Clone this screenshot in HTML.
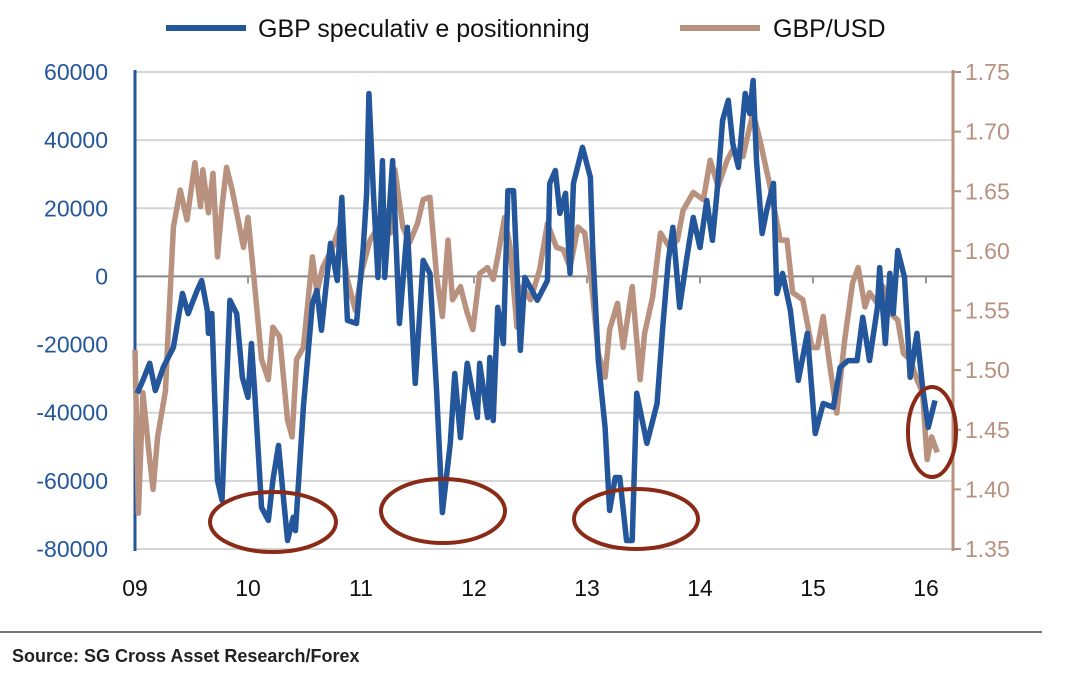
<!DOCTYPE html>
<html><head><meta charset="utf-8"><style>
body{margin:0;background:#fff;}
svg{display:block;font-family:"Liberation Sans",sans-serif;}
</style></head><body>
<svg id="chart" width="1079" height="681"></svg>
<script>
const blueT=[2009.02,2009.07,2009.13,2009.18,2009.25,2009.34,2009.42,2009.47,2009.55,2009.59,2009.64,2009.65,2009.68,2009.73,2009.77,2009.84,2009.90,2009.95,2010.00,2010.03,2010.06,2010.12,2010.18,2010.22,2010.27,2010.31,2010.35,2010.40,2010.42,2010.49,2010.57,2010.61,2010.65,2010.73,2010.79,2010.83,2010.88,2010.96,2011.02,2011.05,2011.07,2011.11,2011.15,2011.19,2011.21,2011.28,2011.34,2011.41,2011.48,2011.55,2011.61,2011.67,2011.72,2011.79,2011.83,2011.88,2011.94,2012.03,2012.05,2012.12,2012.14,2012.17,2012.21,2012.26,2012.30,2012.35,2012.41,2012.45,2012.56,2012.65,2012.67,2012.72,2012.76,2012.81,2012.85,2012.88,2012.96,2013.03,2013.05,2013.10,2013.16,2013.20,2013.25,2013.29,2013.35,2013.40,2013.44,2013.53,2013.62,2013.67,2013.72,2013.76,2013.82,2013.88,2013.94,2014.00,2014.06,2014.11,2014.15,2014.20,2014.25,2014.29,2014.34,2014.40,2014.44,2014.47,2014.50,2014.55,2014.59,2014.65,2014.68,2014.73,2014.80,2014.87,2014.95,2015.02,2015.09,2015.18,2015.24,2015.31,2015.39,2015.44,2015.50,2015.57,2015.59,2015.64,2015.68,2015.71,2015.75,2015.81,2015.86,2015.92,2015.97,2016.02,2016.08];
const blueV=[-34.3,-30.5,-25.5,-33.5,-26.7,-20.8,-5.0,-10.9,-4.1,-1.2,-10.0,-16.7,-10.9,-59.9,-65.7,-7.0,-10.9,-29.6,-35.5,-19.7,-34.3,-67.8,-71.6,-59.9,-49.6,-63.7,-77.5,-70.7,-74.6,-38.4,-7.9,-4.1,-15.8,9.7,-1.2,23.2,-12.9,-13.8,8.5,24.4,53.7,24.4,-0.3,34.0,-0.3,34.0,-13.8,14.4,-31.4,4.7,0.9,-34.3,-69.3,-49.0,-28.5,-47.3,-25.5,-41.4,-25.5,-41.4,-23.8,-42.3,-9.1,-19.7,25.2,25.2,-21.7,-0.3,-7.0,-1.2,27.3,31.1,18.5,24.4,0.9,27.3,37.9,29.1,8.5,-24.7,-44.3,-68.7,-59.0,-59.0,-77.5,-77.5,-34.3,-49.0,-37.3,-15.0,4.7,14.4,-9.1,4.7,17.3,8.5,22.3,10.6,24.4,45.8,51.7,39.0,32.0,53.7,47.8,57.5,34.0,12.6,19.4,27.3,-5.0,0.9,-10.0,-30.5,-16.7,-46.1,-37.3,-38.4,-26.7,-24.7,-24.7,-12.0,-24.7,-9.1,2.6,-19.7,0.9,-10.9,7.6,-0.3,-29.6,-16.7,-32.6,-44.3,-36.4];
const fxT=[2009.00,2009.03,2009.07,2009.13,2009.16,2009.20,2009.27,2009.29,2009.34,2009.40,2009.46,2009.53,2009.58,2009.60,2009.65,2009.69,2009.73,2009.77,2009.81,2009.86,2009.90,2009.96,2010.00,2010.06,2010.12,2010.18,2010.22,2010.28,2010.35,2010.39,2010.43,2010.49,2010.57,2010.61,2010.66,2010.75,2010.81,2010.88,2010.95,2011.01,2011.08,2011.15,2011.21,2011.26,2011.30,2011.37,2011.43,2011.50,2011.55,2011.61,2011.67,2011.72,2011.77,2011.81,2011.88,2011.94,2011.99,2012.05,2012.12,2012.17,2012.21,2012.27,2012.32,2012.38,2012.43,2012.50,2012.58,2012.65,2012.73,2012.79,2012.85,2012.92,2012.98,2013.04,2013.10,2013.16,2013.20,2013.27,2013.32,2013.40,2013.47,2013.51,2013.58,2013.65,2013.73,2013.80,2013.85,2013.94,2014.03,2014.09,2014.16,2014.24,2014.29,2014.38,2014.42,2014.47,2014.53,2014.62,2014.71,2014.77,2014.82,2014.91,2014.99,2015.04,2015.09,2015.15,2015.21,2015.28,2015.35,2015.40,2015.46,2015.50,2015.57,2015.62,2015.68,2015.75,2015.80,2015.86,2015.92,2015.97,2016.01,2016.05,2016.10];
const fxV=[1.517,1.380,1.481,1.425,1.400,1.444,1.483,1.525,1.620,1.651,1.626,1.674,1.637,1.668,1.632,1.665,1.595,1.637,1.670,1.651,1.632,1.603,1.628,1.570,1.509,1.492,1.536,1.528,1.458,1.444,1.509,1.519,1.595,1.565,1.586,1.603,1.620,1.576,1.550,1.584,1.609,1.620,1.634,1.615,1.668,1.620,1.607,1.623,1.643,1.645,1.578,1.545,1.609,1.559,1.570,1.548,1.534,1.581,1.586,1.576,1.595,1.628,1.603,1.536,1.570,1.559,1.584,1.623,1.603,1.601,1.586,1.620,1.615,1.573,1.514,1.494,1.534,1.556,1.519,1.570,1.492,1.531,1.561,1.615,1.603,1.609,1.634,1.649,1.643,1.676,1.654,1.676,1.685,1.679,1.696,1.716,1.693,1.654,1.609,1.609,1.565,1.559,1.519,1.519,1.545,1.503,1.464,1.525,1.573,1.586,1.553,1.565,1.556,1.570,1.548,1.542,1.514,1.509,1.492,1.481,1.425,1.444,1.431];
const leftTicks=[60000,40000,20000,0,-20000,-40000,-60000,-80000];
const rightTicks=[1.75,1.70,1.65,1.60,1.55,1.50,1.45,1.40,1.35];
const yearLabels=["09","10","11","12","13","14","15","16"];

const NS="http://www.w3.org/2000/svg";
const svg=document.getElementById('chart');
const X0=135,X1=953,Y0=72,Y1=549;
const xs=t=>X0+(t-2009)*113;
const yl=v=>Y0+(60000-v)/140000*(Y1-Y0);
const yr=v=>Y0+(1.75-v)/0.4*(Y1-Y0);
function mk(tag,attrs,txt){const e=document.createElementNS(NS,tag);for(const k in attrs)e.setAttribute(k,attrs[k]);if(txt!=null)e.textContent=txt;svg.appendChild(e);return e;}
const BLUE="#24569b",BROWN="#b8917f";

leftTicks.forEach(v=>{
  const g=mk('line',{x1:X0,x2:X1,y1:yl(v),y2:yl(v),stroke:v===0?'#888':'#d4d4d4','stroke-width':2});
  
  
  const t=mk('text',{x:108,y:yl(v)+8,'text-anchor':'end','font-size':23,fill:BLUE},String(v));
  
  
});
rightTicks.forEach(v=>{
  const tk=mk('line',{x1:X1,x2:X1+8,y1:yr(v),y2:yr(v),stroke:BROWN,'stroke-width':2});
  
  
  const t=mk('text',{x:965,y:yr(v)+8,'font-size':23,fill:BROWN},v.toFixed(2));
  
  
});
yearLabels.forEach((l,i)=>{
  const tk=mk('line',{x1:xs(2009+i),x2:xs(2009+i),y1:yl(0),y2:yl(0)+7,stroke:'#999','stroke-width':2});
  
  
  const t=mk('text',{x:xs(2009+i),y:596,'text-anchor':'middle','font-size':23,fill:'#111'},l);
  
  
});
const la=mk('line',{x1:X0,x2:X0,y1:Y0-2,y2:Y1+2,stroke:BLUE,'stroke-width':3});


const ra=mk('line',{x1:X1,x2:X1,y1:Y0-2,y2:Y1+2,stroke:BROWN,'stroke-width':3});



const pf=mk('polyline',{points:fxT.map((t,i)=>xs(t)+','+yr(fxV[i])).join(' '),fill:'none',stroke:BROWN,'stroke-width':5.5,'stroke-linejoin':'round'});


const pb=mk('polyline',{points:blueT.map((t,i)=>xs(t)+','+yl(blueV[i]*1000)).join(' '),fill:'none',stroke:BLUE,'stroke-width':5.5,'stroke-linejoin':'round'});



[[273,522,63,30],[443,511,62,32],[636,519,62,30],[932,432,24,45]].forEach(e=>{
  const el=mk('ellipse',{cx:e[0],cy:e[1],rx:e[2],ry:e[3],fill:'none',stroke:'#8a2b18','stroke-width':4});
  
  
});

const l1=mk('line',{x1:166,x2:246,y1:28,y2:28,stroke:BLUE,'stroke-width':6});


const t1=mk('text',{x:258,y:37,'font-size':25,fill:'#111'},'GBP speculativ e positionning');


const l2=mk('line',{x1:680,x2:760,y1:28,y2:28,stroke:BROWN,'stroke-width':6});


const t2=mk('text',{x:773,y:37,'font-size':25,fill:'#111'},'GBP/USD');



const sl=mk('line',{x1:0,x2:1042,y1:632,y2:632,stroke:'#777','stroke-width':2});


const st=mk('text',{x:12,y:662,'font-size':18,'font-weight':'bold',fill:'#222'},'Source: SG Cross Asset Research/Forex');


</script>
</body></html>
